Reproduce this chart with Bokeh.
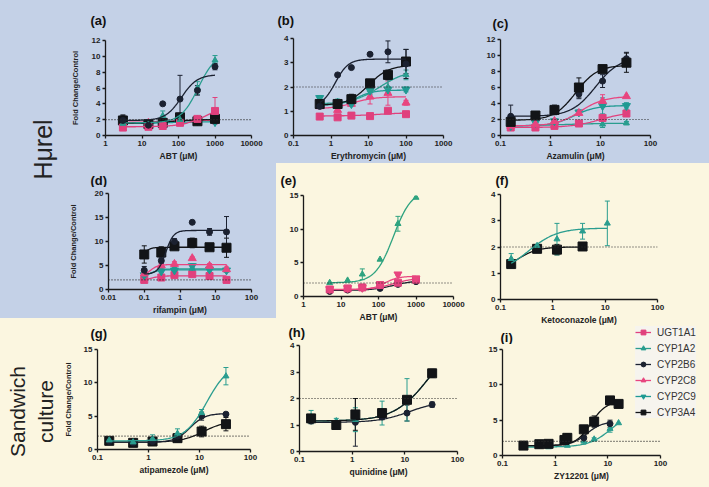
import numpy as np
from bokeh.plotting import figure
from bokeh.core.properties import value
from bokeh.models import (Range1d, FixedTicker, CustomJSTickFormatter, Span, Whisker,
                          TeeHead, ColumnDataSource, Label, Legend, LegendItem, GridBox,
                          Row, Column)
from bokeh.embed import file_html
from bokeh.resources import INLINE

# ---------------- data ----------------
SERIES_NAMES = ["UGT1A1", "CYP1A2", "CYP2B6", "CYP2C8", "CYP2C9", "CYP3A4"]
# fit lists are [bottom, top, EC50, hill] of each fitted concentration-response curve

# (a) Hurel - ABT
A_X = [3, 15, 37, 110, 330, 1000]
A_UGT1A1 = [1.0, 1.1, 1.2, 1.6, 2.1, 3.1]
A_UGT1A1_ERR = [0.1, 0.1, 0.15, 0.1, 0.2, 1.7]
A_UGT1A1_FIT = [1.1, 4.0, 600, 1.3]
A_CYP1A2 = [1.5, 1.4, 2.5, 2.0, 6.0, 9.5]
A_CYP1A2_ERR = [0.3, 0.2, 0.6, 0.3, 0.8, 0.6]
A_CYP1A2_FIT = [1.6, 10.5, 350, 1.8]
A_CYP2B6 = [1.9, 1.3, 4.0, 4.6, 5.7, 8.7]
A_CYP2B6_ERR = [0.6, 0.2, 0.0, 3.0, 0.6, 0.4]
A_CYP2B6_FIT = [1.9, 7.7, 120, 2.0]
A_CYP2C8 = [1.7, 1.6, 1.7, 1.9, 2.0, 1.9]
A_CYP2C8_ERR = [0.1, 0.1, 0.1, 0.1, 0.1, 0.1]
A_CYP2C8_FIT = [1.65, 1.95, 60, 1.0]
A_CYP2C9 = [1.5, 1.4, 1.6, 1.9, 1.8, 1.7]
A_CYP2C9_ERR = [0.1, 0.1, 0.1, 0.2, 0.1, 0.1]
A_CYP2C9_FIT = [1.5, 1.75, 50, 1.0]
A_CYP3A4 = [1.9, 1.45, 1.6, 2.3, 1.8, 2.1]
A_CYP3A4_ERR = [0.7, 0.3, 0.3, 0.5, 0.2, 0.3]
A_CYP3A4_FIT = [1.5, 2.05, 60, 1.0]

# (b) Hurel - Erythromycin
B_X = [0.5, 1.5, 3.5, 11, 33, 100]
B_UGT1A1 = [0.78, 0.75, 0.82, 0.8, 1.02, 0.88]
B_UGT1A1_ERR = [0.0, 0.0, 0.08, 0.1, 0.0, 0.0]
B_UGT1A1_FIT = [0.8, 0.95, 20, 1.0]
B_CYP1A2 = [1.5, 1.4, 1.45, 1.9, 2.0, 2.5]
B_CYP1A2_ERR = [0.1, 0.1, 0.1, 0.2, 0.3, 0.2]
B_CYP1A2_FIT = [1.3, 2.7, 20, 1.2]
B_CYP2B6 = [1.2, 2.5, 2.8, 3.35, 3.45, 2.95]
B_CYP2B6_ERR = [0.0, 0.0, 0.0, 0.0, 0.45, 0.6]
B_CYP2B6_FIT = [1.2, 3.15, 1.3, 2.5]
B_CYP2C8 = [1.2, 1.05, 1.3, 1.6, 1.75, 1.35]
B_CYP2C8_ERR = [0.0, 0.1, 0.1, 0.3, 0.5, 0.1]
B_CYP2C8_FIT = [1.1, 1.6, 4, 1.5]
B_CYP2C9 = [1.55, 1.35, 1.3, 1.85, 1.9, 1.9]
B_CYP2C9_ERR = [0.1, 0.1, 0.1, 0.1, 0.1, 0.1]
B_CYP2C9_FIT = [1.25, 1.87, 5, 2.0]
B_CYP3A4 = [1.3, 1.3, 1.5, 2.15, 2.5, 3.05]
B_CYP3A4_ERR = [0.1, 0.1, 0.2, 0.15, 0.2, 0.5]
B_CYP3A4_FIT = [1.25, 2.9, 10, 1.6]

# (c) Hurel - Azamulin
C_X = [0.16, 0.5, 1.2, 3.7, 11, 33]
C_UGT1A1 = [1.0, 1.0, 1.2, 1.5, 2.2, 2.75]
C_UGT1A1_ERR = [0.0, 0.0, 0.0, 0.15, 0.2, 0.2]
C_UGT1A1_FIT = [1.0, 3.0, 10, 1.5]
C_CYP1A2 = [1.2, 1.3, 1.4, 1.5, 1.4, 1.55]
C_CYP1A2_ERR = [0.0, 0.0, 0.0, 0.2, 0.4, 0.2]
C_CYP1A2_FIT = [1.2, 1.55, 2, 1.0]
C_CYP2B6 = [2.4, 2.6, 3.0, 5.2, 6.8, 9.6]
C_CYP2B6_ERR = [1.4, 0.2, 0.3, 0.6, 0.8, 0.8]
C_CYP2B6_FIT = [2.4, 9.8, 8, 1.8]
C_CYP2C8 = [1.2, 1.4, 1.8, 2.8, 4.3, 4.9]
C_CYP2C8_ERR = [0.0, 0.0, 0.3, 0.3, 0.8, 0.0]
C_CYP2C8_FIT = [1.2, 4.9, 4, 1.8]
C_CYP2C9 = [1.2, 1.6, 1.8, 2.9, 3.7, 3.7]
C_CYP2C9_ERR = [0.0, 0.0, 0.2, 0.3, 1.0, 0.4]
C_CYP2C9_FIT = [1.2, 3.75, 3, 2.0]
C_CYP3A4 = [1.7, 2.5, 3.2, 6.0, 8.3, 9.1]
C_CYP3A4_ERR = [0.0, 0.2, 0.6, 1.2, 0.3, 1.2]
C_CYP3A4_FIT = [1.9, 8.8, 3.2, 2.0]

# (d) Hurel - rifampin
D_X = [0.1, 0.3, 0.7, 2.2, 6.7, 20]
D_UGT1A1 = [2.0, 2.5, 3.0, 3.2, 2.8, 2.0]
D_UGT1A1_ERR = [0.2, 0.2, 0.3, 0.2, 0.3, 0.3]
D_UGT1A1_FIT = [1.8, 2.85, 0.15, 3.0]
D_CYP1A2 = [3.0, 4.2, 4.3, 4.4, 4.4, 4.0]
D_CYP1A2_ERR = [0.3, 0.3, 0.3, 0.3, 0.3, 0.3]
D_CYP1A2_FIT = [2.5, 4.3, 0.15, 3.0]
D_CYP2B6 = [4.0, 6.0, 10.0, 14.0, 12.0, 12.0]
D_CYP2B6_ERR = [0.8, 0.6, 0.6, 0.0, 0.7, 3.2]
D_CYP2B6_FIT = [3.2, 12.3, 0.4, 4.0]
D_CYP2C8 = [3.3, 5.0, 5.3, 6.5, 4.9, 4.2]
D_CYP2C8_ERR = [0.3, 0.5, 0.5, 0.3, 0.5, 0.5]
D_CYP2C8_FIT = [2.8, 5.2, 0.15, 4.0]
D_CYP2C9 = [3.0, 3.8, 4.0, 4.9, 4.2, 4.0]
D_CYP2C9_ERR = [0.3, 0.3, 0.3, 0.5, 0.5, 0.3]
D_CYP2C9_FIT = [2.6, 4.1, 0.15, 4.0]
D_CYP3A4 = [7.3, 7.7, 9.0, 9.7, 8.8, 8.7]
D_CYP3A4_ERR = [1.8, 1.2, 0.7, 1.0, 0.5, 2.0]
D_CYP3A4_FIT = [2.0, 8.8, 0.07, 4.0]

# (e) Sandwich - ABT
E_X = [5, 15, 37, 110, 330, 1000]
E_UGT1A1 = [1.05, 1.2, 1.35, 1.7, 2.05, 2.5]
E_UGT1A1_ERR = [0.1, 0.1, 0.1, 0.2, 0.2, 0.2]
E_UGT1A1_FIT = [1.0, 2.8, 250, 1.5]
E_CYP1A2 = [2.05, 2.4, 3.3, 5.5, 10.8, 14.7]
E_CYP1A2_ERR = [0.0, 0.0, 0.8, 0.0, 1.1, 0.0]
E_CYP1A2_FIT = [2.05, 15.8, 250, 1.8]
E_CYP2B6 = [0.75, 0.95, 1.25, 1.2, 1.8, 2.2]
E_CYP2B6_ERR = [0.1, 0.1, 0.1, 0.1, 0.1, 0.1]
E_CYP2B6_FIT = [0.9, 2.4, 250, 1.5]
E_CYP2C8 = [1.1, 1.25, 1.3, 1.8, 3.3, 2.7]
E_CYP2C8_ERR = [0.1, 0.1, 0.1, 0.1, 0.2, 0.1]
E_CYP2C8_FIT = [1.05, 3.0, 150, 2.5]

# (f) Sandwich - Ketoconazole
F_X = [0.16, 0.5, 1.2, 3.7, 11]
F_CYP1A2 = [1.55, 2.05, 2.3, 2.6, 2.9]
F_CYP1A2_ERR = [0.2, 0.05, 0.6, 0.3, 0.85]
F_CYP1A2_FIT = [1.0, 2.72, 0.35, 1.6]
F_X_CYP3A4 = [0.16, 0.5, 1.2, 3.7]
F_CYP3A4 = [1.35, 1.93, 1.9, 2.02]
F_CYP3A4_ERR = [0.05, 0.05, 0.2, 0.03]
F_CYP3A4_FIT = [1.0, 2.0, 0.2, 2.2]

# (g) Sandwich - atipamezole
G_X = [0.17, 0.5, 1.2, 3.7, 11, 33]
G_CYP1A2 = [1.4, 1.1, 1.6, 2.4, 5.5, 11.0]
G_CYP1A2_ERR = [0.3, 0.5, 0.6, 0.7, 0.5, 1.3]
G_CYP1A2_FIT = [1.3, 13.0, 14, 2.0]
G_CYP2B6 = [1.2, 1.0, 1.2, 2.0, 5.0, 5.3]
G_CYP2B6_ERR = [0.1, 0.1, 0.1, 0.3, 0.6, 0.1]
G_CYP2B6_FIT = [1.1, 5.4, 6.5, 3.0]
G_CYP3A4 = [1.3, 1.0, 1.2, 1.7, 2.7, 3.8]
G_CYP3A4_ERR = [0.2, 0.2, 0.2, 0.6, 0.8, 1.0]
G_CYP3A4_FIT = [1.1, 4.3, 12, 2.0]

# (h) Sandwich - quinidine
H_X = [0.166, 0.5, 1.15, 3.7, 11, 33]
H_CYP1A2 = [1.3, 1.15, 1.2, 1.45, 1.95, 2.9]
H_CYP1A2_ERR = [0.25, 0.1, 0.45, 0.45, 0.8, 0.1]
H_CYP1A2_FIT = [1.15, 4.5, 30, 1.3]
H_CYP2B6 = [1.15, 1.05, 1.1, 1.3, 1.45, 1.77]
H_CYP2B6_ERR = [0.1, 0.1, 0.9, 0.1, 0.3, 0.1]
H_CYP2B6_FIT = [1.1, 1.9, 12, 1.5]
H_CYP3A4 = [1.25, 1.0, 1.4, 1.45, 1.95, 2.95]
H_CYP3A4_ERR = [0.1, 0.1, 0.6, 0.1, 0.1, 0.15]
H_CYP3A4_FIT = [1.15, 4.5, 30, 1.3]

# (i) Sandwich - ZY12201
I_X_CYP3A4 = [0.25, 0.5, 0.75, 1.5, 1.7, 3.5, 5.5, 11, 16]
I_CYP3A4 = [1.4, 1.6, 1.65, 2.2, 2.5, 3.7, 4.8, 7.8, 7.3]
I_CYP3A4_ERR = [0.3, 0.2, 0.2, 0.3, 0.6, 0.5, 0.8, 0.0, 0.0]
I_CYP3A4_FIT = [1.4, 7.7, 4.8, 3.0]
I_X_CYP2B6 = [0.25, 0.5, 0.75, 1.5, 1.7, 3.5, 5.5, 11]
I_CYP2B6 = [1.3, 1.5, 1.6, 1.9, 2.2, 2.5, 4.6, 4.5]
I_CYP2B6_ERR = [0.1, 0.1, 0.1, 0.2, 0.3, 0.3, 0.5, 0.5]
I_CYP2B6_FIT = [1.4, 4.8, 4, 3.0]
I_X_CYP1A2 = [0.25, 0.5, 0.75, 1.7, 3.5, 5.5, 11, 16]
I_CYP1A2 = [1.1, 1.3, 1.2, 1.4, 2.0, 2.3, 3.8, 4.6]
I_CYP1A2_ERR = [0.1, 0.1, 0.1, 0.1, 0.4, 0.2, 0.5, 0.0]
I_CYP1A2_FIT = [1.2, 6.5, 12, 2.0]

# axis ticks
TICKS_X_A = [1, 10, 100, 1000, 10000]
TICKS_X_B = [0.1, 1, 10, 100, 1000]
TICKS_X_C = [0.1, 1, 10, 100]
TICKS_X_D = [0.01, 0.1, 1, 10, 100]
TICKS_Y_12 = [0, 2, 4, 6, 8, 10, 12]
TICKS_Y_4 = [0, 1, 2, 3, 4]
TICKS_Y_20 = [0, 5, 10, 15, 20]
TICKS_Y_15 = [0, 5, 10, 15]

# ---------------- styling ----------------
BLUE = "#c4d1e7"
YELLOW = "#fbf6e0"
FONT = "Liberation Sans"
INK = "#1a1a1a"

STY = {
    "UGT1A1": dict(color="#e0407d", marker="square", size=7),
    "CYP1A2": dict(color="#2a9d8f", marker="triangle", size=6),
    "CYP2B6": dict(color="#1b2130", marker="circle", size=6),
    "CYP2C8": dict(color="#e8457f", marker="triangle", size=8),
    "CYP2C9": dict(color="#1f9a93", marker="inverted_triangle", size=8),
    "CYP3A4": dict(color="#121417", marker="square", size=9),
}


def add_series(p, name, xs, ys, errs, fit, marker=None, color=None):
    st = STY[name]
    c = color or st["color"]
    mk = marker or st["marker"]
    b, t, ec, h = fit
    cx = np.logspace(np.log10(xs[0]), np.log10(xs[-1]), 90)
    cy = b + (t - b) / (1.0 + (ec / cx) ** h)
    p.line(cx, cy, line_color=c, line_width=1.3)
    ex, lo, hi = [], [], []
    for x, y, e in zip(xs, ys, errs):
        if e > 0:
            ex.append(x); lo.append(y - e); hi.append(y + e)
    if ex:
        src = ColumnDataSource(dict(base=ex, lower=lo, upper=hi))
        p.add_layout(Whisker(source=src, base="base", lower="lower", upper="upper",
                             line_color=c, line_width=1,
                             upper_head=TeeHead(size=5, line_color=c, line_width=1),
                             lower_head=TeeHead(size=5, line_color=c, line_width=1)))
    p.scatter(xs, ys, marker=mk, size=st["size"], fill_color=c, line_color=c)


def blank_fig(w, h, bg, alpha=1.0):
    p = figure(width=w, height=h, x_range=Range1d(0, w), y_range=Range1d(0, h),
               output_backend="svg", toolbar_location=None, min_border=0,
               x_axis_location=None, y_axis_location=None, frame_align=False,
               background_fill_color=bg, border_fill_color=bg,
               background_fill_alpha=alpha, border_fill_alpha=alpha,
               outline_line_color=None,
               styles={"background-color": bg} if alpha > 0 else {})
    p.grid.visible = False
    return p


def make_panel(tile, frame, bg, xr, yr, xticks, yticks, xlabel, ylabel, title, title_pos,
               series, inner_top=6, ylab_standoff=9):
    tx0, ty0, tx1, ty1 = tile
    fx0, fy0, fx1, fy1 = frame
    w = tx1 - tx0
    sh = fy0 - ty0 - inner_top          # height of the title strip above the plot
    st = blank_fig(w, sh, bg)
    st.text(x=[title_pos[0] - tx0], y=[sh - (title_pos[1] - ty0)], text=[title],
            text_font=value(FONT), text_font_size="13px", text_font_style="bold",
            text_color="#111111", text_baseline="top", text_align="left")
    p = figure(width=w, height=ty1 - ty0 - sh, x_axis_type="log",
               x_range=Range1d(xr[0], xr[1]), y_range=Range1d(yr[0], yr[1]),
               output_backend="svg", toolbar_location=None, frame_align=False,
               min_border_left=fx0 - tx0, min_border_right=tx1 - fx1,
               min_border_top=inner_top, min_border_bottom=ty1 - fy1,
               background_fill_color=bg, border_fill_color=bg, outline_line_color=None,
               styles={"background-color": bg})
    p.grid.visible = False
    p.xaxis.ticker = FixedTicker(ticks=xticks, minor_ticks=[])
    p.xaxis.formatter = CustomJSTickFormatter(code="return String(tick);")
    p.yaxis.ticker = FixedTicker(ticks=yticks, minor_ticks=[])
    for ax in p.axis:
        ax.axis_line_color = INK
        ax.axis_line_width = 1.3
        ax.major_tick_line_color = INK
        ax.major_tick_line_width = 1.3
        ax.major_tick_out = 3
        ax.major_tick_in = 0
        ax.minor_tick_line_color = None
        ax.major_label_text_font = FONT
        ax.major_label_text_font_size = "8px"
        ax.major_label_text_font_style = "bold"
        ax.major_label_text_color = "#222222"
        ax.major_label_standoff = 2
        ax.axis_label_text_font = FONT
        ax.axis_label_text_font_style = "bold"
        ax.axis_label_text_color = "#222222"
    p.xaxis.axis_label = xlabel
    p.xaxis.axis_label_text_font_size = "8.5px"
    p.xaxis.axis_label_standoff = 2
    if ylabel:
        p.yaxis.axis_label = ylabel
        p.yaxis.axis_label_text_font_size = "7.5px"
        p.yaxis.axis_label_standoff = ylab_standoff
    p.add_layout(Span(location=2, dimension="width", line_color="#2b2b2b",
                      line_width=1.1, line_dash="1 2"))
    for s in series:
        add_series(p, *s)
    return Column(children=[st, p], spacing=0, styles={"background-color": bg})


YLAB = "Fold Change/Control"

pa = make_panel((60, 0, 276, 163), (105, 40, 251, 137), BLUE, (1, 10000), (0, 12),
                TICKS_X_A, TICKS_Y_12, "ABT (μM)", YLAB, "(a)", (90, 12), [
                    ("CYP2C8", A_X, A_CYP2C8, A_CYP2C8_ERR, A_CYP2C8_FIT),
                    ("CYP2C9", A_X, A_CYP2C9, A_CYP2C9_ERR, A_CYP2C9_FIT),
                    ("CYP3A4", A_X, A_CYP3A4, A_CYP3A4_ERR, A_CYP3A4_FIT),
                    ("UGT1A1", A_X, A_UGT1A1, A_UGT1A1_ERR, A_UGT1A1_FIT),
                    ("CYP1A2", A_X, A_CYP1A2, A_CYP1A2_ERR, A_CYP1A2_FIT),
                    ("CYP2B6", A_X, A_CYP2B6, A_CYP2B6_ERR, A_CYP2B6_FIT)],
                ylab_standoff=9)

pb = make_panel((276, 0, 468, 163), (293, 38, 443, 137), BLUE, (0.1, 1000), (0, 4),
                TICKS_X_B, TICKS_Y_4, "Erythromycin (μM)", None, "(b)", (277, 12), [
                    ("UGT1A1", B_X, B_UGT1A1, B_UGT1A1_ERR, B_UGT1A1_FIT),
                    ("CYP2C8", B_X, B_CYP2C8, B_CYP2C8_ERR, B_CYP2C8_FIT),
                    ("CYP2C9", B_X, B_CYP2C9, B_CYP2C9_ERR, B_CYP2C9_FIT),
                    ("CYP1A2", B_X, B_CYP1A2, B_CYP1A2_ERR, B_CYP1A2_FIT),
                    ("CYP3A4", B_X, B_CYP3A4, B_CYP3A4_ERR, B_CYP3A4_FIT),
                    ("CYP2B6", B_X, B_CYP2B6, B_CYP2B6_ERR, B_CYP2B6_FIT)])

pc = make_panel((468, 0, 709, 163), (500, 39, 650, 140), BLUE, (0.1, 100), (0, 12),
                TICKS_X_C, TICKS_Y_12, "Azamulin (μM)", None, "(c)", (492, 15), [
                    ("CYP1A2", C_X, C_CYP1A2, C_CYP1A2_ERR, C_CYP1A2_FIT),
                    ("UGT1A1", C_X, C_UGT1A1, C_UGT1A1_ERR, C_UGT1A1_FIT),
                    ("CYP2C9", C_X, C_CYP2C9, C_CYP2C9_ERR, C_CYP2C9_FIT),
                    ("CYP2C8", C_X, C_CYP2C8, C_CYP2C8_ERR, C_CYP2C8_FIT),
                    ("CYP2B6", C_X, C_CYP2B6, C_CYP2B6_ERR, C_CYP2B6_FIT),
                    ("CYP3A4", C_X, C_CYP3A4, C_CYP3A4_ERR, C_CYP3A4_FIT)])

pd_ = make_panel((60, 163, 276, 318), (108, 193, 251, 289), BLUE, (0.01, 100), (0, 20),
                 TICKS_X_D, TICKS_Y_20, "rifampin (μM)", YLAB, "(d)", (90, 172), [
                     ("UGT1A1", D_X, D_UGT1A1, D_UGT1A1_ERR, D_UGT1A1_FIT),
                     ("CYP1A2", D_X, D_CYP1A2, D_CYP1A2_ERR, D_CYP1A2_FIT),
                     ("CYP2C9", D_X, D_CYP2C9, D_CYP2C9_ERR, D_CYP2C9_FIT),
                     ("CYP2C8", D_X, D_CYP2C8, D_CYP2C8_ERR, D_CYP2C8_FIT),
                     ("CYP3A4", D_X, D_CYP3A4, D_CYP3A4_ERR, D_CYP3A4_FIT),
                     ("CYP2B6", D_X, D_CYP2B6, D_CYP2B6_ERR, D_CYP2B6_FIT)],
                 ylab_standoff=14)

pe = make_panel((276, 163, 468, 324), (303, 195, 453, 296), YELLOW, (1, 10000), (0, 15),
                TICKS_X_A, TICKS_Y_15, "ABT (μM)", None, "(e)", (280, 172), [
                    ("CYP2B6", E_X, E_CYP2B6, E_CYP2B6_ERR, E_CYP2B6_FIT),
                    ("UGT1A1", E_X, E_UGT1A1, E_UGT1A1_ERR, E_UGT1A1_FIT),
                    ("CYP2C8", E_X, E_CYP2C8, E_CYP2C8_ERR, E_CYP2C8_FIT, "inverted_triangle"),
                    ("CYP1A2", E_X, E_CYP1A2, E_CYP1A2_ERR, E_CYP1A2_FIT, None, "#2ea37f")])

pf = make_panel((468, 163, 709, 328), (500, 194, 657, 299), YELLOW, (0.1, 100), (0, 4),
                TICKS_X_C, TICKS_Y_4, "Ketoconazole (μM)", None, "(f)", (495, 172), [
                    ("CYP3A4", F_X_CYP3A4, F_CYP3A4, F_CYP3A4_ERR, F_CYP3A4_FIT),
                    ("CYP1A2", F_X, F_CYP1A2, F_CYP1A2_ERR, F_CYP1A2_FIT)])

pg = make_panel((60, 318, 276, 487), (97, 349, 250, 449), YELLOW, (0.1, 100), (0, 15),
                TICKS_X_C, TICKS_Y_15, "atipamezole (μM)", YLAB, "(g)", (90, 325), [
                    ("CYP3A4", G_X, G_CYP3A4, G_CYP3A4_ERR, G_CYP3A4_FIT),
                    ("CYP2B6", G_X, G_CYP2B6, G_CYP2B6_ERR, G_CYP2B6_FIT),
                    ("CYP1A2", G_X, G_CYP1A2, G_CYP1A2_ERR, G_CYP1A2_FIT)],
                ylab_standoff=8)

ph = make_panel((276, 324, 468, 487), (299, 345, 457, 451), YELLOW, (0.1, 100), (0, 4),
                TICKS_X_C, TICKS_Y_4, "quinidine (μM)", None, "(h)", (288, 324), [
                    ("CYP2B6", H_X, H_CYP2B6, H_CYP2B6_ERR, H_CYP2B6_FIT),
                    ("CYP1A2", H_X, H_CYP1A2, H_CYP1A2_ERR, H_CYP1A2_FIT),
                    ("CYP3A4", H_X, H_CYP3A4, H_CYP3A4_ERR, H_CYP3A4_FIT)],
                inner_top=5)

pi = make_panel((468, 328, 709, 487), (502, 349, 660, 455), YELLOW, (0.1, 100), (0, 15),
                TICKS_X_C, TICKS_Y_15, "ZY12201 (μM)", None, "(i)", (500, 329), [
                    ("CYP1A2", I_X_CYP1A2, I_CYP1A2, I_CYP1A2_ERR, I_CYP1A2_FIT),
                    ("CYP2B6", I_X_CYP2B6, I_CYP2B6, I_CYP2B6_ERR, I_CYP2B6_FIT),
                    ("CYP3A4", I_X_CYP3A4, I_CYP3A4, I_CYP3A4_ERR, I_CYP3A4_FIT)],
                inner_top=5)

# legend: a transparent figure laid over panels (f)+(i)
LEG_W, LEG_H = 241, 487 - 163
legfig = blank_fig(LEG_W, LEG_H, YELLOW, alpha=0.0)
items = []
for name in SERIES_NAMES:
    st = STY[name]
    r1 = legfig.line([-60, -50], [-60, -60], line_color=st["color"], line_width=1.3)
    r2 = legfig.scatter([-55], [-60], marker=st["marker"], size=min(st["size"], 8),
                        fill_color=st["color"], line_color=st["color"])
    items.append(LegendItem(label=name, renderers=[r1, r2]))
leg = Legend(items=items, location=(635 - 468, 487 - 418), orientation="vertical",
             label_text_font=FONT, label_text_font_size="10px", label_text_color="#333333",
             glyph_width=16, glyph_height=12, label_height=12, spacing=4, padding=5,
             label_standoff=6, margin=0, background_fill_color="#f6f4ee",
             background_fill_alpha=1.0, border_line_color=None)
legfig.add_layout(leg)

# side labels
hurel = blank_fig(60, 318, BLUE)
hurel.add_layout(Label(x=42, y=318 - 149, text="Hμrel", angle=np.pi / 2, text_font=FONT,
                       text_font_size="25px", text_color="#222222",
                       text_align="center", text_baseline="alphabetic"))
sand = blank_fig(60, 169, YELLOW)
sand.add_layout(Label(x=31, y=169 - 93, text="Sandwich\nculture", angle=np.pi / 2,
                      text_font=FONT, text_font_size="21px", text_color="#222222",
                      text_line_height=1.22,
                      text_align="center", text_baseline="middle"))

fi = GridBox(children=[(pf, 0, 0), (pi, 1, 0), (legfig, 0, 0, 2, 1)], spacing=0,
             styles={"background-color": YELLOW})

layout = Row(spacing=0, children=[
    Column(spacing=0, children=[hurel, sand]),
    Column(spacing=0, children=[pa, pd_, pg]),
    Column(spacing=0, children=[
        Row(spacing=0, children=[pb, pc], styles={"background-color": BLUE}),
        Row(spacing=0, children=[Column(spacing=0, children=[pe, ph]), fi],
            styles={"background-color": YELLOW}),
    ]),
])

open("out.html", "w").write(file_html(layout, INLINE))
